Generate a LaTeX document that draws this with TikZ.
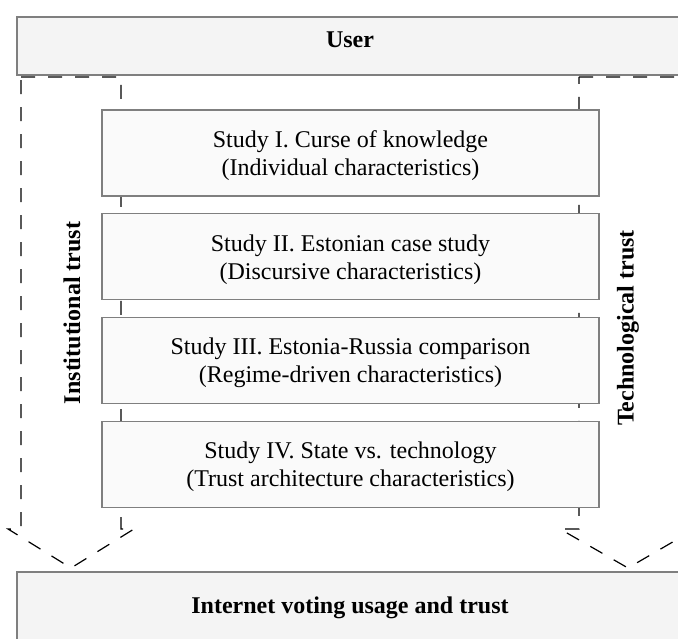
\documentclass[tikz,border=0pt]{standalone}
\usepackage{fontspec}
\setmainfont{Liberation Serif}
\usepackage{xcolor}
\usetikzlibrary{positioning}
\definecolor{boxfill}{HTML}{F4F4F4}
\definecolor{studyfill}{HTML}{FAFAFA}
\definecolor{boxline}{HTML}{7F7F7F}
\tikzset{
	bigbox/.style={draw=boxline, fill=boxfill, line width=1.3pt, minimum width=666pt},
	bigtext/.style={anchor=base, font=\fontsize{24}{28}\selectfont\bfseries},
	studybox/.style={draw=boxline, fill=studyfill, line width=1.3pt, minimum width=497pt, minimum height=86pt, align=center, text depth=0pt, font=\fontsize{24}{28}\selectfont},
	trustarrow/.style={draw=black, line width=1.2pt, dash pattern=on 14pt off 13pt},
	trustlabel/.style={rotate=90, font=\fontsize{24}{28}\selectfont\bfseries}
}

\begin{document}
\begin{tikzpicture}[x=1pt, y=-1pt]
						\useasboundingbox (0,0) rectangle (678,639);
						\clip (0,0) rectangle (678,639);
						% draw dashed arrows
						\draw[trustarrow] (21,77) -- (121,77) -- (121,529) -- (134,529) -- (71,568) -- (8,529) -- (21,529) -- cycle;
						\draw[trustarrow] (579,77) -- (679,77) -- (679,529) -- (695,529) -- (628,568) -- (560,529) -- (579,529) -- cycle;
						% draw top and bottom boxes
						\node[bigbox, minimum height=58pt] (user) at (350,46) {};
						\node[bigtext] (usertext) at (350,47.5) {User};
						\node[bigbox, minimum height=73pt] (usage) at (350,608.5) {};
						\node[bigtext] (usagetext) at (350,613) {Internet voting usage and trust};
						% draw study boxes
						\node[studybox] (study1) at (350.5,153) {Study I. Curse of knowledge\\(Individual characteristics)};
						\node[studybox, below=16.5pt of study1] (study2) {Study II. Estonian case study\\(Discursive characteristics)};
						\node[studybox, below=16.5pt of study2] (study3) {Study III. Estonia-Russia comparison\\(Regime-driven characteristics)};
						\node[studybox, below=16.5pt of study3] (study4) {Study IV. State vs. technology\\(Trust architecture characteristics)};
						% add labels
						\node[trustlabel] (institutional) at (72,313) {Institutional trust};
						\node[trustlabel] (technological) at (628,328) {Technological trust};
					\end{tikzpicture}
\end{document}
